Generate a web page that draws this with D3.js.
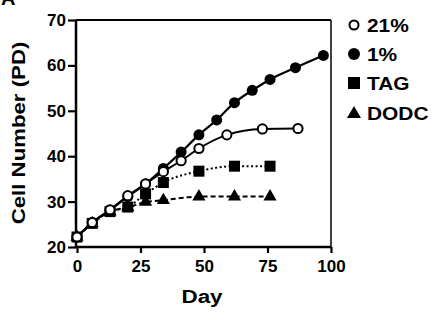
<!DOCTYPE html>
<html><head><meta charset="utf-8">
<script src="https://cdn.jsdelivr.net/npm/d3@7"></script>
<style>
html,body{margin:0;padding:0;background:#fff;}
svg{display:block;font-family:"Liberation Sans",Arial,Helvetica,sans-serif;font-weight:bold;}
</style></head>
<body>
<svg id="chart" width="442" height="324"></svg>
<script>
// ---- data ----
const days1 = [0,6,13,20,27,34,41,48,55,62,69,76,86,97];
const pd1 = [22.2,25.4,28.1,31.1,33.9,37.3,40.9,44.7,48.0,51.8,54.5,56.9,59.5,62.2];
const days21 = [0,6,13,20,27,34,41,48,59,73,87];
const pd21 = [22.2,25.4,28.2,31.3,33.9,36.6,39.0,41.7,44.7,46.0,46.1];
const daysTAG = [0,6,13,20,27,34,48,62,76];
const pdTAG = [22.2,25.2,27.8,28.8,31.7,34.2,36.7,37.8,37.8];
const daysDODC = [0,6,13,20,27,34,48,62,76];
const pdDODC = [22.2,25.2,27.8,28.7,29.9,30.3,31.1,31.1,31.1];
const xTicks = [0,25,50,75,100];
const yTicks = [20,30,40,50,60,70];
const legendLabels = ["21%","1%","TAG","DODC"];
const xTitle = "Day";
const yTitle = "Cell Number (PD)";

const svg = d3.select("#chart");
const x = d3.scaleLinear().domain([0,100]).range([77,331]);
const y = d3.scaleLinear().domain([20,70]).range([247,20]);

// panel letter (cut off at top, as in the reference)
svg.append("text").attr("x",1).attr("y",5).attr("font-size",20).text("A");

// frame top/right
svg.append("line").attr("x1",76).attr("x2",331).attr("y1",y(70)).attr("y2",y(70)).attr("stroke","#000").attr("stroke-width",2);
svg.append("line").attr("x1",331).attr("x2",331).attr("y1",y(70)).attr("y2",y(20)).attr("stroke","#000").attr("stroke-width",1.5);

// axes
const xAxis = svg.append("g").attr("transform","translate(0,247)")
  .call(d3.axisBottom(x).tickValues(xTicks).tickSize(6).tickPadding(4));
const yAxis = svg.append("g").attr("transform","translate(76,0)")
  .call(d3.axisLeft(y).tickValues(yTicks).tickSize(8).tickPadding(2));
[xAxis,yAxis].forEach(g=>{
  g.select(".domain").attr("stroke","#000").attr("stroke-width",2.5);
  g.selectAll(".tick line").attr("stroke","#000").attr("stroke-width",2.2);
  g.selectAll(".tick text").attr("font-size",17).attr("font-weight","bold")
    .attr("font-family","'Liberation Sans',Arial,sans-serif").attr("fill","#000");
});
xAxis.select(".domain").attr("d","M76,0H331");
yAxis.select(".domain").attr("d","M0,20V248");
xAxis.selectAll(".tick text").attr("dy","0.9em");

// axis titles
svg.append("text").attr("transform","translate(202,303) scale(1.18,1)")
  .attr("text-anchor","middle").attr("font-size",19).text(xTitle);
svg.append("text").attr("transform","translate(25,133) rotate(-90) scale(1.17,1)")
  .attr("text-anchor","middle").attr("font-size",19).text(yTitle);

// lines
function series(ds,vs){ return ds.map((d,i)=>({d:d,v:vs[i]})); }
const sTAG = series(daysTAG,pdTAG), sDODC = series(daysDODC,pdDODC),
      s1 = series(days1,pd1), s21 = series(days21,pd21);
const line = d3.line().x(p=>x(p.d)).y(p=>y(p.v)).curve(d3.curveMonotoneX);
const plot = svg.append("g");
plot.append("path").attr("d",line(sDODC)).attr("fill","none").attr("stroke","#000").attr("stroke-width",2).attr("stroke-dasharray","5,3");
plot.append("path").attr("d",line(sTAG)).attr("fill","none").attr("stroke","#000").attr("stroke-width",2).attr("stroke-dasharray","2,2.5");
plot.append("path").attr("d",line(s1)).attr("fill","none").attr("stroke","#000").attr("stroke-width",2.2);
plot.append("path").attr("d",line(s21)).attr("fill","none").attr("stroke","#000").attr("stroke-width",2);

// markers
const tri = d3.symbol().type(d3.symbolTriangle).size(75);
plot.selectAll(".tri").data(sDODC).enter().append("path")
  .attr("d",tri).attr("transform",p=>`translate(${x(p.d)},${y(p.v)})`).attr("fill","#000");
plot.selectAll(".sq").data(sTAG).enter().append("rect")
  .attr("x",p=>x(p.d)-5.5).attr("y",p=>y(p.v)-5.5).attr("width",11).attr("height",11).attr("fill","#000");
plot.selectAll(".fc").data(s1).enter().append("circle")
  .attr("cx",p=>x(p.d)).attr("cy",p=>y(p.v)).attr("r",5.5).attr("fill","#000");
plot.selectAll(".oc").data(s21).enter().append("circle")
  .attr("cx",p=>x(p.d)).attr("cy",p=>y(p.v)).attr("r",4.6).attr("fill","#fff").attr("stroke","#000").attr("stroke-width",2);

// legend
const lg = svg.append("g");
const rowsY = [25,54,83,113];
legendLabels.forEach((t,i)=>{
  const cy = rowsY[i], cx = 354;
  if(i===0) lg.append("circle").attr("cx",cx).attr("cy",cy).attr("r",4.5).attr("fill","#fff").attr("stroke","#000").attr("stroke-width",2);
  if(i===1) lg.append("circle").attr("cx",cx).attr("cy",cy).attr("r",6).attr("fill","#000");
  if(i===2) lg.append("rect").attr("x",cx-6).attr("y",cy-6).attr("width",12).attr("height",12).attr("fill","#000");
  if(i===3) lg.append("path").attr("d",d3.symbol().type(d3.symbolTriangle).size(85)()).attr("transform",`translate(${cx},${cy+1})`).attr("fill","#000");
  lg.append("text").attr("transform",`translate(367,${cy+7}) scale(1.1,1)`).attr("font-size",19).text(t);
});
</script>
</body></html>
